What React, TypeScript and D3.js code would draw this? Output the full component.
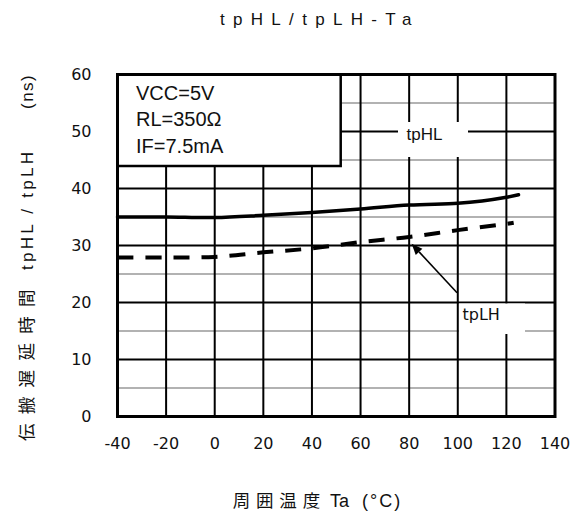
import React from 'react';
import * as d3 from 'd3';

// ---- data ----
const tempTicks = [-40, -20, 0, 20, 40, 60, 80, 100, 120, 140];
const valueTicks = [0, 10, 20, 30, 40, 50, 60];
const minorValueTicks = [5, 15, 25, 35, 45, 55];
const tpHLTemps = [-40, -20, 0, 20, 40, 60, 80, 100, 110, 120, 125];
const tpHLValues = [35.0, 35.0, 34.9, 35.3, 35.8, 36.4, 37.1, 37.4, 37.8, 38.45, 38.9];
const tpLHTemps = [-40, -20, 0, 20, 40, 60, 80, 100, 120, 123];
const tpLHValues = [27.9, 27.9, 28.0, 28.8, 29.5, 30.6, 31.5, 32.7, 33.8, 34.0];
const conditions = ['VCC=5V', 'RL=350Ω', 'IF=7.5mA'];
const chartTitle = 'tpHL/tpLH-Ta';
const yTitleCJK = '伝搬遅延時間';
const yTitleLatin = 'tpHL / tpLH';
const yTitleUnit = '(ns)';
const xTitleCJK = ['周', '囲', '温', '度'];
const xTitleLatin = 'Ta';
const xTitleUnit = '(°C)';
// annotation arrow for tpLH (data space): tip, tail
const arrowTip = [81, 30.3];
const arrowTail = [99.7, 21.7];

const W = 583;
const H = 524;
const L = 117.5, R = 555, T = 74.5, B = 416.5;

export default function App() {
  const x = d3.scaleLinear().domain([-40, 140]).range([L, R]);
  const y = d3.scaleLinear().domain([0, 60]).range([B, T]);

  const line = d3
    .line<[number, number]>()
    .x((d) => x(d[0]))
    .y((d) => y(d[1]))
    .curve(d3.curveCatmullRom.alpha(0.5));

  const hl = line(tpHLTemps.map((t, i) => [t, tpHLValues[i]] as [number, number])) || '';
  const lh = line(tpLHTemps.map((t, i) => [t, tpLHValues[i]] as [number, number])) || '';

  const tipX = x(arrowTip[0]), tipY = y(arrowTip[1]);
  const tailX = x(arrowTail[0]), tailY = y(arrowTail[1]);
  const dx = tailX - tipX, dy = tailY - tipY;
  const len = Math.sqrt(dx * dx + dy * dy);
  const ux = dx / len, uy = dy / len;
  const headL = 11, headW = 4.5;
  const bx = tipX + ux * headL, by = tipY + uy * headL;
  const head = `${tipX},${tipY} ${bx - uy * headW},${by + ux * headW} ${bx + uy * headW},${by - ux * headW}`;

  const sans = "'Liberation Sans', Arial, sans-serif";
  const dv = "'DejaVu Sans', Verdana, sans-serif";
  const cjk = "'Noto Sans CJK JP', 'Noto Sans', sans-serif";

  return (
    <svg width={W} height={H} style={{ position: 'absolute', left: 0, top: 0, background: '#fff' }}>
      <rect x={0} y={0} width={W} height={H} fill="#fff" />
      {/* title */}
      <text x={220} y={25} fontFamily={sans} fontSize={17} letterSpacing={8.3} fill="#111">
        {chartTitle}
      </text>

      {/* minor gridlines */}
      {minorValueTicks.map((v) => (
        <line key={'m' + v} x1={L} x2={R} y1={y(v)} y2={y(v)} stroke="#999" strokeWidth={1.5} />
      ))}
      {/* major gridlines */}
      {valueTicks.map((v) => (
        <line key={'h' + v} x1={L} x2={R} y1={y(v)} y2={y(v)} stroke="#000" strokeWidth={2} />
      ))}
      {tempTicks.map((t) => (
        <line key={'v' + t} x1={x(t)} x2={x(t)} y1={T} y2={B} stroke="#000" strokeWidth={2} />
      ))}

      {/* conditions box */}
      <rect x={L} y={T} width={340.7 - L} height={166 - T} fill="#fff" stroke="#000" strokeWidth={2.5} />
      {conditions.map((c, i) => (
        <text key={c} x={136} y={99.5 + i * 26.8} fontFamily={sans} fontSize={20} fill="#111">
          {c}
        </text>
      ))}

      {/* label boxes */}
      <rect x={398} y={122} width={70} height={35} fill="#fff" />
      <text x={406.5} y={140} fontFamily={sans} fontSize={17} fill="#111">tpHL</text>
      <rect x={459} y={303.5} width={66} height={30.5} fill="#fff" />
      <text x={462.5} y={320} fontFamily={dv} fontSize={16} fill="#111">tpLH</text>

      {/* curves */}
      <path d={hl} fill="none" stroke="#000" strokeWidth={3.5} strokeLinecap="round" />
      <path d={lh} fill="none" stroke="#000" strokeWidth={4} strokeDasharray="16 12" />

      {/* arrow */}
      <line x1={tailX} y1={tailY} x2={bx} y2={by} stroke="#000" strokeWidth={1.6} />
      <polygon points={head} fill="#000" />

      {/* border */}
      <rect x={L} y={T} width={R - L} height={B - T} fill="none" stroke="#000" strokeWidth={3} />

      {/* y ticks */}
      {valueTicks.map((v) => (
        <text key={'yl' + v} x={91.5} y={y(v)} dy="0.36em" textAnchor="end" fontFamily={dv} fontSize={16} fill="#111">
          {v}
        </text>
      ))}
      {/* x ticks */}
      {tempTicks.map((t) => (
        <text key={'xl' + t} x={x(t)} y={449} textAnchor="middle" fontFamily={dv} fontSize={16} fill="#111">
          {t}
        </text>
      ))}

      {/* y title */}
      <g transform="translate(33,0) rotate(-90)">
        <text x={-441} y={0} fontFamily={cjk} fontSize={17.5} letterSpacing={9.3} fill="#111">
          {yTitleCJK}
        </text>
        <text x={-270} y={0} fontFamily={sans} fontSize={17} textLength={118} lengthAdjust="spacing" fill="#111">
          {yTitleLatin}
        </text>
        <text x={-109} y={0} fontFamily={sans} fontSize={17} letterSpacing={1.5} fill="#111">
          {yTitleUnit}
        </text>
      </g>

      {/* x title */}
      {xTitleCJK.map((c, i) => (
        <text key={c} x={241.5 + i * 23.3} y={506.5} textAnchor="middle" fontFamily={cjk} fontSize={17.5} fill="#111">
          {c}
        </text>
      ))}
      <text x={330} y={506.5} fontFamily={sans} fontSize={18} fill="#111">{xTitleLatin}</text>
      <text x={362} y={506.5} fontFamily={sans} fontSize={18} letterSpacing={2} fill="#111">{xTitleUnit}</text>
    </svg>
  );
}
